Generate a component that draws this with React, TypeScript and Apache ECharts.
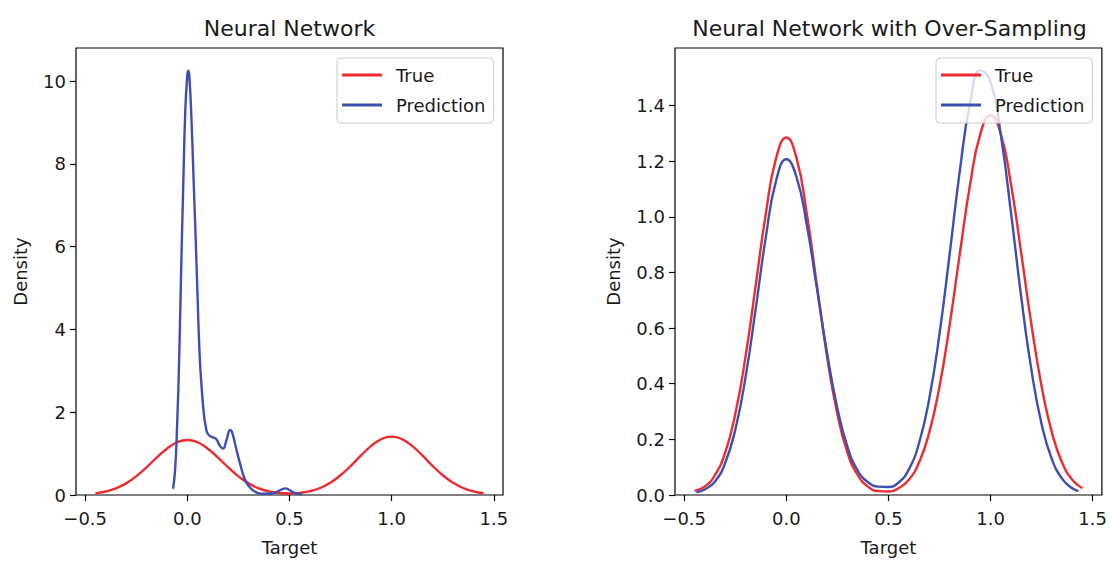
import React, { useEffect, useRef } from "react";
import * as echarts from "echarts";

const titles = ["Neural Network", "Neural Network with Over-Sampling"];
const legendNames = ["True", "Prediction"];
const xTicks = [-0.5, 0, 0.5, 1, 1.5];
const leftYTicks = [0, 2, 4, 6, 8, 10];
const rightYTicks = [0, 0.2, 0.4, 0.6, 0.8, 1.0, 1.2, 1.4];

const trueX = [
  -0.45, -0.4, -0.35, -0.3, -0.25, -0.2, -0.15, -0.1, -0.05, 0.0, 0.05, 0.1, 0.15,
  0.2, 0.25, 0.3, 0.35, 0.4, 0.45, 0.5, 0.55, 0.6, 0.65, 0.7, 0.75, 0.8, 0.85, 0.9,
  0.95, 1.0, 1.05, 1.1, 1.15, 1.2, 1.25, 1.3, 1.35, 1.4, 1.45,
];
const leftTrueY = [
  0.04, 0.084, 0.16, 0.281, 0.451, 0.666, 0.902, 1.119, 1.274, 1.33, 1.274, 1.119, 0.902,
  0.666, 0.451, 0.281, 0.161, 0.086, 0.048, 0.036, 0.05, 0.092, 0.169, 0.298, 0.478, 0.706,
  0.956, 1.186, 1.351, 1.41, 1.351, 1.186, 0.956, 0.706, 0.478, 0.298, 0.169, 0.089, 0.042,
];
const rightTrueY = [
  0.015, 0.03, 0.071, 0.151, 0.291, 0.496, 0.753, 1.013, 1.211, 1.285, 1.211, 1.013, 0.753,
  0.496, 0.291, 0.151, 0.071, 0.03, 0.014, 0.0125, 0.025, 0.055, 0.117, 0.225, 0.39, 0.613,
  0.87, 1.117, 1.298, 1.365, 1.298, 1.117, 0.87, 0.613, 0.39, 0.225, 0.117, 0.055, 0.024,
];

const leftPredX = [
  -0.07, -0.06, -0.05, -0.04, -0.03, -0.02, -0.01, 0.0, 0.005, 0.01, 0.02, 0.03, 0.04, 0.05,
  0.06, 0.07, 0.08, 0.09, 0.1, 0.12, 0.14, 0.16, 0.175, 0.19, 0.21, 0.22, 0.24, 0.26, 0.28,
  0.3, 0.32, 0.34, 0.37, 0.4, 0.43, 0.46, 0.48, 0.5, 0.52, 0.54, 0.56,
];
const leftPredY = [
  0.15, 0.6, 1.7, 3.3, 5.5, 7.5, 9.3, 10.15, 10.25, 10.1, 9.1, 7.7, 6.3, 4.8,
  3.4, 2.6, 2.0, 1.65, 1.48, 1.4, 1.36, 1.18, 1.12, 1.3, 1.57, 1.5, 1.1, 0.72, 0.4,
  0.22, 0.12, 0.06, 0.03, 0.03, 0.06, 0.13, 0.16, 0.12, 0.06, 0.03, 0.02,
];

const rightPredX = [
  -0.44, -0.4, -0.35, -0.3, -0.25, -0.2, -0.15, -0.1, -0.05, 0.0, 0.05, 0.1, 0.15,
  0.2, 0.25, 0.3, 0.35, 0.4, 0.45, 0.5, 0.55, 0.6, 0.65, 0.7, 0.75, 0.8, 0.85, 0.9,
  0.95, 1.0, 1.05, 1.1, 1.15, 1.2, 1.25, 1.3, 1.35, 1.4, 1.43,
];
const rightPredY = [
  0.01, 0.02, 0.048, 0.114, 0.234, 0.422, 0.669, 0.929, 1.13, 1.207, 1.143, 0.972, 0.742,
  0.508, 0.312, 0.172, 0.087, 0.046, 0.03, 0.029, 0.045, 0.092, 0.187, 0.347, 0.579, 0.868,
  1.168, 1.41, 1.527, 1.485, 1.296, 1.015, 0.713, 0.45, 0.254, 0.129, 0.059, 0.024, 0.014,
];

const RED = "#ee2b2e";
const BLUE = "#3d4fb0";
const FONT = "DejaVu Sans";
const TEXT = "#1a1a1a";

const zip = (xs: number[], ys: number[]) => xs.map((x, i) => [x, ys[i]]);
const fmtX = (v: number) => v.toFixed(1).replace("-", "\u2212");

export default function App() {
  const ref = useRef<HTMLDivElement>(null);
  useEffect(() => {
    if (!ref.current) return;
    const chart = echarts.init(ref.current, undefined, { renderer: "svg" });
    const grids = [
      { left: 76, top: 48, width: 427, height: 451 },
      { left: 675, top: 48, width: 429, height: 451 },
    ];
    const tickStyle = { color: "#000", width: 1.2 };
    const labelStyle = { fontFamily: FONT, fontSize: 18, color: TEXT };
    const xAxes = grids.map((_, i) => ({
      type: "value",
      gridIndex: i,
      min: -0.545,
      max: 1.545,
      name: "Target",
      nameLocation: "middle",
      nameGap: 43,
      nameTextStyle: labelStyle,
      axisLine: { show: false, onZero: false },
      axisTick: { show: true, length: 6, inside: false, lineStyle: tickStyle, customValues: xTicks },
      axisLabel: { ...labelStyle, margin: 14, customValues: xTicks, formatter: (v: number) => fmtX(v) },
      splitLine: { show: false },
    }));
    const yAxes = [
      {
        type: "value",
        gridIndex: 0,
        min: 0,
        max: 10.8,
        name: "Density",
        nameLocation: "middle",
        nameGap: 47,
        nameRotate: 90,
        nameTextStyle: labelStyle,
        axisLine: { show: false, onZero: false },
        axisTick: { show: true, length: 6, lineStyle: tickStyle, customValues: leftYTicks },
        axisLabel: { ...labelStyle, margin: 10, customValues: leftYTicks, formatter: (v: number) => String(Math.round(v)) },
        splitLine: { show: false },
      },
      {
        type: "value",
        gridIndex: 1,
        min: 0,
        max: 1.607,
        name: "Density",
        nameLocation: "middle",
        nameGap: 53,
        nameRotate: 90,
        nameTextStyle: labelStyle,
        axisLine: { show: false, onZero: false },
        axisTick: { show: true, length: 6, lineStyle: tickStyle, customValues: rightYTicks },
        axisLabel: { ...labelStyle, margin: 10, customValues: rightYTicks, formatter: (v: number) => v.toFixed(1) },
        splitLine: { show: false },
      },
    ];
    const mkLine = (name: string, color: string, idx: number, data: number[][]) => ({
      type: "line",
      name,
      xAxisIndex: idx,
      yAxisIndex: idx,
      data,
      showSymbol: false,
      smooth: 0.5,
      lineStyle: { color, width: 2.4 },
      itemStyle: { color },
      z: 2,
    });
    const mkLegend = (left: number) => ({
      left,
      top: 58,
      orient: "vertical",
      data: legendNames,
      icon: "rect",
      itemWidth: 40,
      itemHeight: 3,
      itemGap: 10,
      padding: [7, 8, 8, 5],
      selectedMode: false,
      backgroundColor: "rgba(255,255,255,0.8)",
      borderColor: "#cccccc",
      borderWidth: 1,
      borderRadius: 4,
      textStyle: { ...labelStyle, lineHeight: 20, padding: [0, 0, 0, 9] },
      z: 10,
    });
    chart.setOption({
      animation: false,
      backgroundColor: "#ffffff",
      title: [
        {
          text: titles[0],
          left: 289.5,
          top: 17,
          textAlign: "center",
          padding: 0,
          textStyle: { fontFamily: FONT, fontSize: 22, fontWeight: "normal", color: TEXT },
        },
        {
          text: titles[1],
          left: 889.5,
          top: 17,
          textAlign: "center",
          padding: 0,
          textStyle: { fontFamily: FONT, fontSize: 22, fontWeight: "normal", color: TEXT },
        },
      ],
      grid: grids.map((g) => ({ ...g, show: true, borderColor: "#000", borderWidth: 1.2, backgroundColor: "transparent" })),
      xAxis: xAxes,
      yAxis: yAxes,
      legend: [mkLegend(337), mkLegend(936)],
      series: [
        mkLine(legendNames[0], RED, 0, zip(trueX, leftTrueY)),
        mkLine(legendNames[1], BLUE, 0, zip(leftPredX, leftPredY)),
        mkLine(legendNames[0], RED, 1, zip(trueX, rightTrueY)),
        mkLine(legendNames[1], BLUE, 1, zip(rightPredX, rightPredY)),
      ],
    });
    return () => chart.dispose();
  }, []);
  return (
    <div
      ref={ref}
      style={{ position: "fixed", left: 0, top: 0, width: 1110, height: 561, background: "#fff" }}
    />
  );
}
